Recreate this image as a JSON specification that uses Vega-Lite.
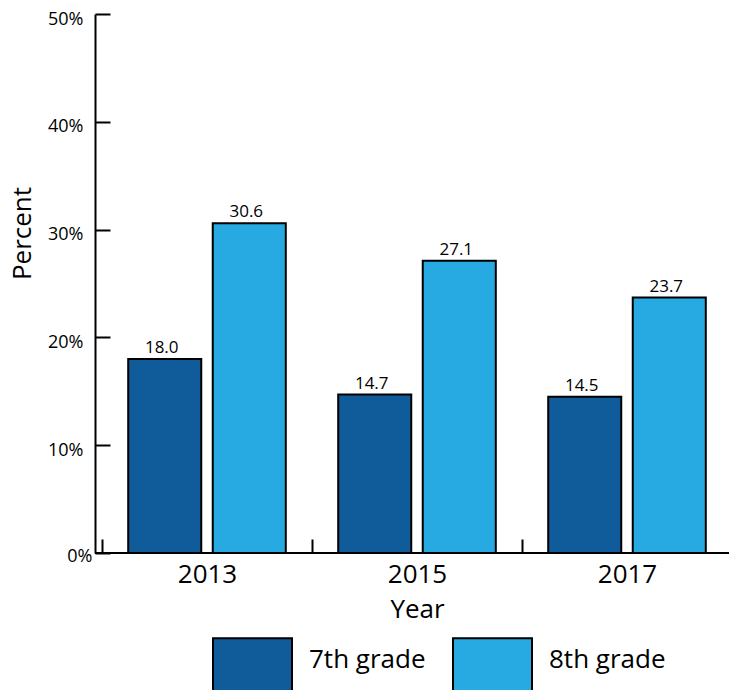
{
  "$schema": "https://vega.github.io/schema/vega-lite/v6.json",
  "width": 634,
  "height": 539,
  "autosize": {"type": "none"},
  "padding": {"left": 95, "top": 14, "right": 0, "bottom": 137},
  "background": "white",
  "config": {
    "view": {"stroke": null},
    "font": "Open Sans",
    "axis": {"grid": false, "domainColor": "black", "tickColor": "black", "labelColor": "black", "titleColor": "black", "titleFontWeight": "normal"}
  },
  "data": {
    "values": [
      {"year": "2013", "grade": "7th grade", "pct": 18.0},
      {"year": "2013", "grade": "8th grade", "pct": 30.6},
      {"year": "2015", "grade": "7th grade", "pct": 14.7},
      {"year": "2015", "grade": "8th grade", "pct": 27.1},
      {"year": "2017", "grade": "7th grade", "pct": 14.5},
      {"year": "2017", "grade": "8th grade", "pct": 23.7}
    ]
  },
  "layer": [
    {
      "mark": {"type": "bar", "stroke": "black", "strokeWidth": 2},
      "encoding": {
        "x": {
          "field": "year", "type": "nominal",
          "scale": {"range": [7, 637], "paddingInner": 0, "paddingOuter": 0},
          "axis": {
            "title": "Year", "labelAngle": 0, "domain": false,
            "tickBand": "extent", "tickSize": -14, "tickWidth": 2,
            "labelFontSize": 26, "labelPadding": 22, "labelBaseline": "top",
            "titleFontSize": 26, "titleX": 322, "titleY": 64, "titleAlign": "center", "titleBaseline": "alphabetic", "titleAnchor": null
          }
        },
        "xOffset": {"field": "grade", "type": "nominal", "scale": {"paddingInner": 0.136, "paddingOuter": 0.31}},
        "y": {
          "field": "pct", "type": "quantitative",
          "scale": {"domain": [0, 50], "nice": false},
          "axis": {
            "title": "Percent", "values": [0, 10, 20, 30, 40, 50],
            "labelExpr": "datum.value + '%'",
            "tickSize": -15, "tickWidth": 2, "domainWidth": 2,
            "labelFontSize": 18,
            "labelPadding": {"condition": {"test": "datum.value == 0", "value": 18}, "value": 27},
            "labelOffset": {"condition": {"test": "datum.value == 0", "value": 3}, "value": 5},
            "labelFlush": false,
            "titleFontSize": 26, "titleX": -73, "titleY": 219, "titleAlign": "center", "titleBaseline": "middle", "titleAngle": -90, "titleAnchor": null
          }
        },
        "fill": {
          "field": "grade", "type": "nominal",
          "scale": {"domain": ["7th grade", "8th grade"], "range": ["#105B9A", "#27AAE1"]},
          "legend": {
            "title": null, "orient": "none", "direction": "horizontal",
            "legendX": 117, "legendY": 613,
            "symbolType": "M-1,-0.75H1V0.75H-1Z", "symbolSize": 6241,
            "symbolStrokeColor": "black", "symbolStrokeWidth": 2, "symbolOpacity": 1,
            "labelFont": "Open Sans", "labelFontSize": 26, "labelColor": "black",
            "labelBaseline": "alphabetic", "labelOffset": 16, "columnPadding": 23,
            "labelLimit": 300
          }
        }
      }
    },
    {
      "mark": {"type": "text", "baseline": "alphabetic", "dy": -6, "dx": -3, "fontSize": 17, "font": "Open Sans", "color": "black"},
      "encoding": {
        "x": {"field": "year", "type": "nominal"},
        "xOffset": {"field": "grade", "type": "nominal"},
        "y": {"field": "pct", "type": "quantitative"},
        "text": {"field": "pct", "type": "quantitative", "format": ".1f"}
      }
    },
    {
      "mark": {"type": "rule", "color": "black", "strokeWidth": 2},
      "encoding": {"y": {"datum": 0}}
    }
  ]
}
